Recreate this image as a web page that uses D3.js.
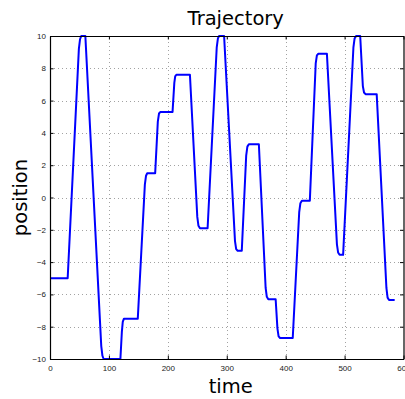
<!DOCTYPE html>
<html>
<head>
<meta charset="utf-8">
<script src="https://cdn.jsdelivr.net/npm/d3@7"></script>
<style>
  body { margin: 0; background: #fff; }
  svg { display: block; }
  .tick-label { font-family: 'Liberation Sans', Arial, sans-serif; font-size: 8px; fill: #222; }
  .big-label { font-family: 'DejaVu Sans', sans-serif; font-size: 19.5px; fill: #000; }
</style>
</head>
<body>
<div id="chart"></div>
<script>
// trajectory (time, position)
const times = [
  0, 30, 49, 51, 53, 60,
  87, 89, 91, 119.5,
  122, 123.5, 125.5, 149,
  161, 163, 165, 178.5,
  183, 185, 187.5, 208,
  211, 212.5, 214.5, 237.5,
  250, 252, 254.5, 267.5,
  283, 285, 287, 295.5,
  314, 316, 318.5, 325.5,
  333, 335, 337.5, 354.5,
  366, 368, 370.5, 383,
  386, 388, 390.5, 412,
  423, 425, 427.5, 441,
  451, 453, 455.5, 470,
  487, 489, 491.5, 497.5,
  515, 517, 519.5, 526.5,
  531, 533, 535.5, 554.5,
  571, 573, 575.5, 585
]
const positions = [
  -5, -5, 9.2, 9.8, 10, 10,
  -9.2, -9.8, -10, -10,
  -8.3, -7.7, -7.5, -7.5,
  0.8, 1.35, 1.5, 1.5,
  4.7, 5.2, 5.3, 5.3,
  7.1, 7.5, 7.6, 7.6,
  -1.2, -1.75, -1.9, -1.9,
  9.3, 9.85, 10, 10,
  -2.7, -3.2, -3.3, -3.3,
  2.6, 3.15, 3.3, 3.3,
  -5.6, -6.15, -6.3, -6.3,
  -8.1, -8.6, -8.7, -8.7,
  -0.9, -0.35, -0.2, -0.2,
  8.3, 8.8, 8.9, 8.9,
  -2.9, -3.4, -3.55, -3.55,
  9.3, 9.85, 10, 10,
  6.9, 6.5, 6.4, 6.4,
  -5.6, -6.2, -6.35, -6.35
]

const xTicks = [0, 100, 200, 300, 400, 500, 600]
const yTicks = [-10, -8, -6, -4, -2, 0, 2, 4, 6, 8, 10]

const titleText = 'Trajectory'
const xLabelText = 'time'
const yLabelText = 'position'

const width = 405
const height = 399
const margin = { top: 36, right: 1.5, bottom: 40, left: 50 }

const x = d3.scaleLinear().domain([0, 600]).range([margin.left, width - margin.right])
const y = d3.scaleLinear().domain([-10, 10]).range([height - margin.bottom, margin.top])

const svg = d3.select('#chart')
  .append('svg')
  .attr('width', width)
  .attr('height', height)

const x0 = x.range()[0], x1 = x.range()[1]
const y0 = y.range()[0], y1 = y.range()[1]

// dotted grid
const grid = svg.append('g')
  .attr('stroke', '#8a8a8a')
  .attr('stroke-width', 0.8)
  .attr('stroke-dasharray', '1,3')

grid.selectAll('.gx')
  .data(xTicks.filter(d => d > 0 && d < 600))
  .enter().append('line')
  .attr('x1', d => Math.round(x(d)) + 0.5)
  .attr('x2', d => Math.round(x(d)) + 0.5)
  .attr('y1', y0)
  .attr('y2', y1)

grid.selectAll('.gy')
  .data(yTicks.filter(d => d > -10 && d < 10))
  .enter().append('line')
  .attr('y1', d => Math.round(y(d)) + 0.5)
  .attr('y2', d => Math.round(y(d)) + 0.5)
  .attr('x1', x0)
  .attr('x2', x1)

// trajectory
const line = d3.line()
  .x(d => x(d[0]))
  .y(d => y(d[1]))

svg.append('path')
  .datum(times.map((t, i) => [t, positions[i]]))
  .attr('fill', 'none')
  .attr('stroke', '#0000ff')
  .attr('stroke-width', 2)
  .attr('stroke-linejoin', 'round')
  .attr('d', line)

// axes, matlab style: box with inward ticks on all sides
const tickLen = 3.5

const bottomAxis = d3.axisBottom(x).tickValues(xTicks).tickSizeInner(-tickLen).tickSizeOuter(0).tickPadding(6)
const topAxis = d3.axisTop(x).tickValues(xTicks).tickSizeInner(-tickLen).tickSizeOuter(0).tickFormat('')
const leftAxis = d3.axisLeft(y).tickValues(yTicks).tickSizeInner(-tickLen).tickSizeOuter(0).tickPadding(4)
const rightAxis = d3.axisRight(y).tickValues(yTicks).tickSizeInner(-tickLen).tickSizeOuter(0).tickFormat('')

function styleAxis(g) {
  g.select('.domain').attr('stroke', '#000').attr('stroke-width', 1.2)
  g.selectAll('.tick line').attr('stroke', '#000').attr('stroke-width', 1)
  g.selectAll('.tick text').attr('class', 'tick-label').attr('fill', null)
}

svg.append('g').attr('transform', `translate(0,${y0})`).call(bottomAxis).call(styleAxis)
svg.append('g').attr('transform', `translate(0,${y1})`).call(topAxis).call(styleAxis)
svg.append('g').attr('transform', `translate(${x0},0)`).call(leftAxis).call(styleAxis)
svg.append('g').attr('transform', `translate(${x1},0)`).call(rightAxis).call(styleAxis)

svg.selectAll('.tick-label').attr('font-family', null).attr('font-size', null)

// titles
svg.append('text')
  .attr('class', 'big-label')
  .attr('x', (x0 + x1) / 2 + 9)
  .attr('y', 25)
  .attr('text-anchor', 'middle')
  .text(titleText)

svg.append('text')
  .attr('class', 'big-label')
  .attr('x', (x0 + x1) / 2 + 4)
  .attr('y', 393)
  .attr('text-anchor', 'middle')
  .text(xLabelText)

svg.append('text')
  .attr('class', 'big-label')
  .attr('transform', `translate(27,${(y0 + y1) / 2}) rotate(-90)`)
  .attr('text-anchor', 'middle')
  .text(yLabelText)
</script>
</body>
</html>
